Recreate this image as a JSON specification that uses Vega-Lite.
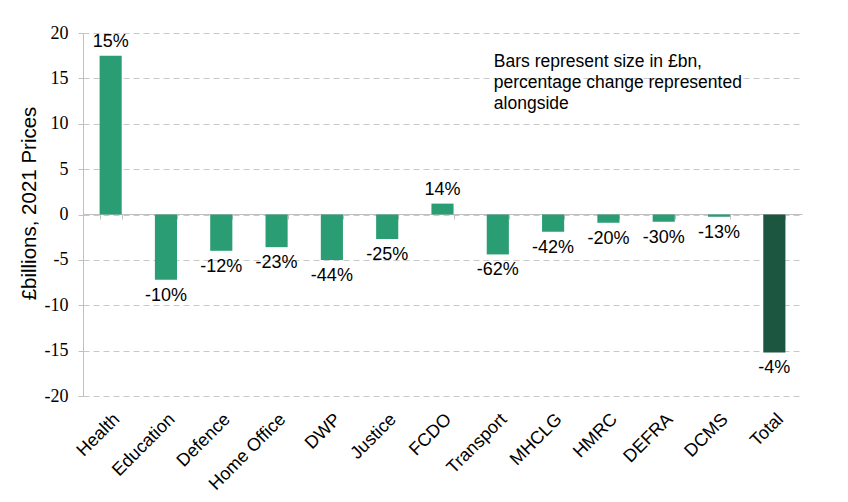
{
  "$schema": "https://vega.github.io/schema/vega-lite/v6.json",
  "width": 719,
  "height": 363,
  "autosize": "none",
  "padding": {"left": 83, "top": 33, "right": 46, "bottom": 106},
  "background": "white",
  "config": {"view": {"stroke": null}},
  "data": {
    "values": [
      {"dept": "Health", "value": 17.5, "pct": "15%"},
      {"dept": "Education", "value": -7.2, "pct": "-10%"},
      {"dept": "Defence", "value": -4.0, "pct": "-12%"},
      {"dept": "Home Office", "value": -3.6, "pct": "-23%"},
      {"dept": "DWP", "value": -5.0, "pct": "-44%"},
      {"dept": "Justice", "value": -2.7, "pct": "-25%"},
      {"dept": "FCDO", "value": 1.2, "pct": "14%"},
      {"dept": "Transport", "value": -4.4, "pct": "-62%"},
      {"dept": "MHCLG", "value": -1.9, "pct": "-42%"},
      {"dept": "HMRC", "value": -0.9, "pct": "-20%"},
      {"dept": "DEFRA", "value": -0.8, "pct": "-30%"},
      {"dept": "DCMS", "value": -0.25, "pct": "-13%"},
      {"dept": "Total", "value": -15.2, "pct": "-4%"}
    ]
  },
  "resolve": {"axis": {"x": "independent"}},
  "layer": [
    {
      "mark": {"type": "bar"},
      "encoding": {
        "x": {
          "field": "dept", "type": "nominal", "sort": null,
          "scale": {"paddingInner": 0.6, "paddingOuter": 0.3},
          "axis": {
            "orient": "bottom", "title": null, "domain": false, "ticks": false,
            "labelAngle": -45, "labelAlign": "right", "labelBaseline": "top",
            "labelFont": "Liberation Sans", "labelFontSize": 18, "labelColor": "#000",
            "labelPadding": 14
          }
        },
        "y": {
          "field": "value", "type": "quantitative",
          "scale": {"domain": [-20, 20], "nice": false, "zero": false},
          "axis": {
            "values": [-20, -15, -10, -5, 0, 5, 10, 15, 20],
            "labelExpr": "'' + datum.value",
            "title": "£billions, 2021 Prices",
            "titleFont": "Liberation Sans", "titleFontSize": 20.5, "titleFontWeight": "normal",
            "titleColor": "#000", "titlePadding": 5, "titleY": 170,
            "labelFont": "Liberation Serif", "labelFontSize": 18, "labelColor": "#000",
            "labelPadding": 10,
            "domainColor": "#c0c0c0", "tickColor": "#c0c0c0", "tickSize": 5,
            "grid": true, "gridColor": "#c8c8c8", "gridDash": [6, 4], "gridWidth": 1
          }
        },
        "color": {
          "condition": {"test": "datum.dept === 'Total'", "value": "#1c5540"},
          "value": "#2a9d74"
        }
      }
    },
    {
      "transform": [{"filter": "datum.value >= 0"}],
      "mark": {"type": "text", "baseline": "alphabetic", "dy": -9, "font": "Liberation Sans", "fontSize": 18, "color": "#000"},
      "encoding": {
        "x": {
          "field": "dept", "type": "nominal", "sort": null,
          "axis": {
            "orient": "bottom", "offset": -182, "title": null, "labels": false,
            "domain": true, "domainColor": "#c0c0c0", "ticks": true, "tickColor": "#c0c0c0",
            "tickSize": 5, "tickBand": "extent", "grid": false
          }
        },
        "y": {"field": "value", "type": "quantitative"},
        "text": {"field": "pct"}
      }
    },
    {
      "transform": [{"filter": "datum.value < 0"}],
      "mark": {"type": "text", "baseline": "top", "dy": 7, "font": "Liberation Sans", "fontSize": 18, "color": "#000"},
      "encoding": {
        "x": {"field": "dept", "type": "nominal", "sort": null, "axis": null},
        "y": {"field": "value", "type": "quantitative"},
        "text": {"field": "pct"}
      }
    },
    {
      "data": {"values": [{"note": "Bars represent size in £bn, percentage change represented alongside"}]},
      "mark": {"type": "text", "align": "left", "baseline": "top", "dx": -4, "lineHeight": 21, "font": "Liberation Sans", "fontSize": 17.5, "color": "#000"},
      "encoding": {
        "x": {"datum": "Transport", "type": "nominal", "axis": null},
        "y": {"datum": 17.8, "type": "quantitative"},
        "text": {"value": ["Bars represent size in £bn,", "percentage change represented", "alongside"]}
      }
    }
  ]
}
